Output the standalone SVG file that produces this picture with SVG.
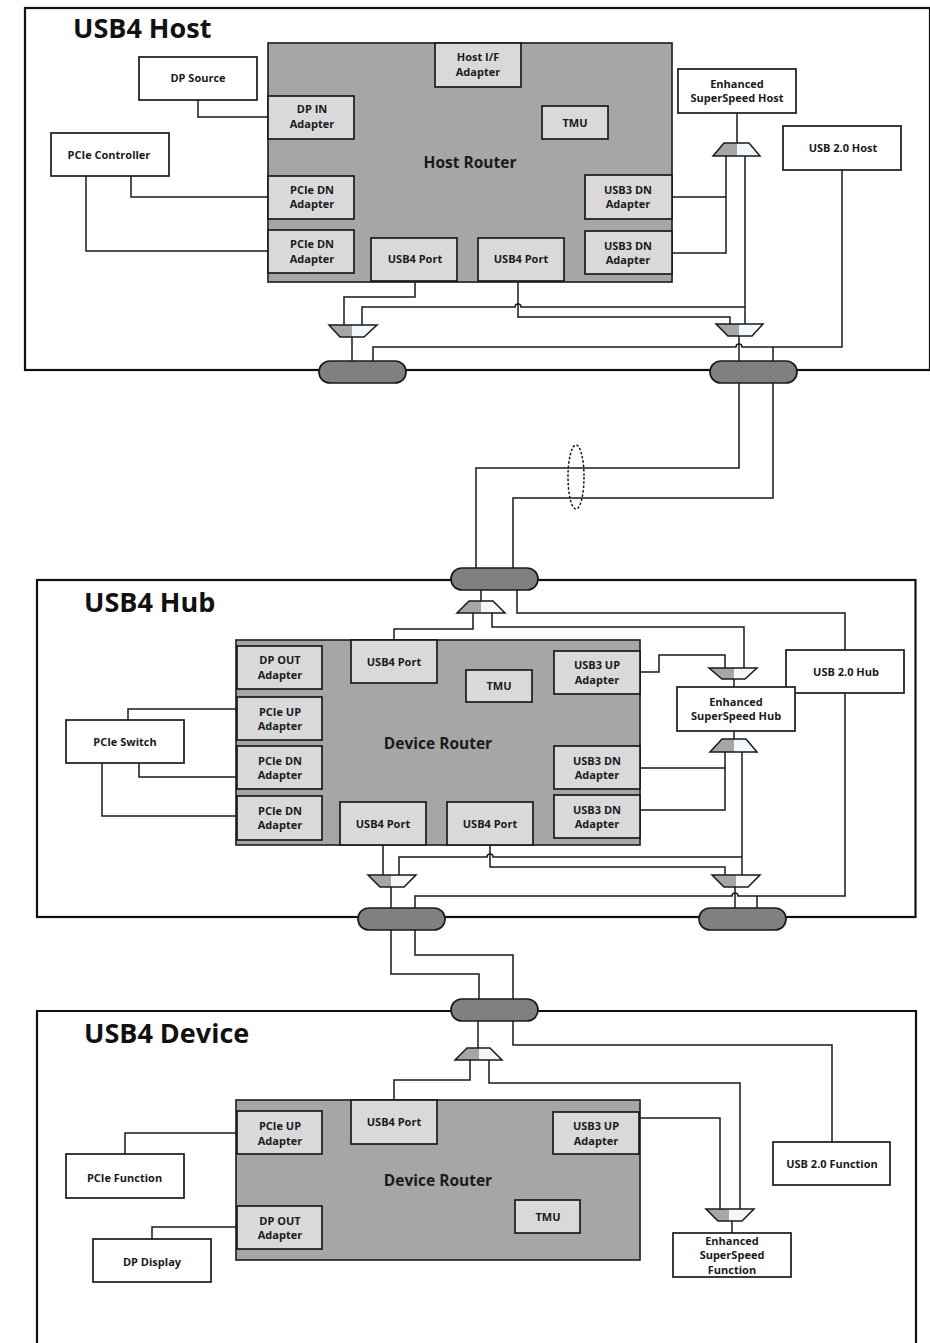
<svg xmlns="http://www.w3.org/2000/svg" width="930" height="1343" viewBox="0 0 930 1343">
<style>
text{font-family:"Open Sans","Noto Sans","DejaVu Sans",sans-serif;font-weight:700;fill:#1a1a1a;text-anchor:middle}
.s{font-size:11px}
.m{font-size:15.5px}
.t{font-size:27px;text-anchor:start;fill:#111}
.box{fill:#fff;stroke:#1a1a1a;stroke-width:1.7}
.ad{fill:#d9d9d9;stroke:#1a1a1a;stroke-width:1.7}
.rt{fill:#a6a6a6;stroke:#262626;stroke-width:1.7}
.fr{fill:#fff;stroke:#111;stroke-width:2.2}
.w{fill:none;stroke:#1a1a1a;stroke-width:1.5}
.pill{fill:#808080;stroke:#1a1a1a;stroke-width:1.7}
.ml{fill:#a6a6a6}
.mr{fill:#f2f7fc}
.mo{fill:none;stroke:#1a1a1a;stroke-width:1.5}
</style>
<g id="frame-host"><rect class="fr" x="25" y="8" width="905" height="362"/></g>
<g id="frame-hub"><rect class="fr" x="37" y="580" width="878.500" height="337"/></g>
<g id="frame-device"><path class="fr" d="M37 1343V1011H916V1343"/></g>

<g id="connectors">
<path class="w" d="M198 100V117H268"/>
<path class="w" d="M131 176V197H268"/>
<path class="w" d="M86 176V251H268"/>
<path class="w" d="M737 113V143"/>
<path class="w" d="M672 197H726M672 253H726V156"/>
<path class="w" d="M745 156V324"/>
<path class="w" d="M415 281V297H344V325"/>
<path class="w" d="M518 281V317H730V325"/>
<path class="w" d="M362 325V307H515A3 3 0 0 1 521 307H745"/>
<path class="w" d="M352 337V361"/>
<path class="w" d="M739 336V361"/>
<path class="w" d="M373 361V347H736A3 3 0 0 1 742 347H842V170"/>
<path class="w" d="M773 347V361"/>
<path class="w" d="M739 383V468H476V568"/>
<path class="w" d="M773 383V498H513V568"/>
<ellipse cx="576" cy="477" rx="8" ry="32" fill="none" stroke="#1a1a1a" stroke-width="1.5" stroke-dasharray="2.500 1.800"/>

<path class="w" d="M481 590V601"/>
<path class="w" d="M473 613V629H394V641"/>
<path class="w" d="M492 613V627H744V668"/>
<path class="w" d="M517 590V613H845V650"/>
<path class="w" d="M640 672H659V655H725V668"/>
<path class="w" d="M734 679V687"/>
<path class="w" d="M734 731V739"/>
<path class="w" d="M640 768H725M640 810H725V752"/>
<path class="w" d="M742 752V875"/>
<path class="w" d="M383 845V875"/>
<path class="w" d="M490 845V867H725V875"/>
<path class="w" d="M399 875V857H487A3 3 0 0 1 493 857H742"/>
<path class="w" d="M391 887V908"/>
<path class="w" d="M735 887V908"/>
<path class="w" d="M415 908V896H732A3 3 0 0 1 738 896H845V693"/>
<path class="w" d="M757 896V908"/>
<path class="w" d="M391 930V974H479V999"/>
<path class="w" d="M415 930V955H513V999"/>

<path class="w" d="M478 1021V1048"/>
<path class="w" d="M470 1060V1080H394V1100"/>
<path class="w" d="M489 1060V1083H740V1209"/>
<path class="w" d="M513 1021V1045H832V1142"/>
<path class="w" d="M640 1118H720V1209"/>
<path class="w" d="M732 1221V1233"/>
<path class="w" d="M125 1154V1133H237"/>
<path class="w" d="M152 1239V1227H237"/>
<path class="w" d="M128 720V709H237"/>
<path class="w" d="M139 763V777H237"/>
<path class="w" d="M102 763V816H237"/>
</g>

<g id="pill-host-left"><rect class="pill" x="319" y="361" width="87" height="22" rx="11"/></g>
<g id="pill-host-right"><rect class="pill" x="710" y="361" width="87" height="22" rx="11"/></g>
<g id="pill-hub-top"><rect class="pill" x="451" y="568" width="87" height="22" rx="11"/></g>
<g id="pill-hub-left"><rect class="pill" x="358" y="908" width="87" height="22" rx="11"/></g>
<g id="pill-hub-right"><rect class="pill" x="699" y="908" width="87" height="22" rx="11"/></g>
<g id="pill-device-top"><rect class="pill" x="451" y="999" width="87" height="22" rx="11"/></g>

<g id="mux-host-ss"><path class="ml" d="M724 143H737V156H713Z"/><path class="mr" d="M737 143H749L760 156H737Z"/><path class="mo" d="M724 143H749L760 156H713Z"/></g>
<g id="mux-host-left"><path class="ml" d="M329 325H352V337H340Z"/><path class="mr" d="M352 325H377L364 337H352Z"/><path class="mo" d="M329 325H377L364 337H340Z"/></g>
<g id="mux-host-right"><path class="ml" d="M716 324H739V336H728Z"/><path class="mr" d="M739 324H763L752 336H739Z"/><path class="mo" d="M716 324H763L752 336H728Z"/></g>
<g id="mux-hub-top"><path class="ml" d="M469 601H481V613H457Z"/><path class="mr" d="M481 601H493L505 613H481Z"/><path class="mo" d="M469 601H493L505 613H457Z"/></g>
<g id="mux-hub-ss-up"><path class="ml" d="M709 668H734V679H722Z"/><path class="mr" d="M734 668H757L745 679H734Z"/><path class="mo" d="M709 668H757L745 679H722Z"/></g>
<g id="mux-hub-ss-down"><path class="ml" d="M722 739H734V752H710Z"/><path class="mr" d="M734 739H746L757 752H734Z"/><path class="mo" d="M722 739H746L757 752H710Z"/></g>
<g id="mux-hub-left"><path class="ml" d="M368 875H391V887H380Z"/><path class="mr" d="M391 875H416L404 887H391Z"/><path class="mo" d="M368 875H416L404 887H380Z"/></g>
<g id="mux-hub-right"><path class="ml" d="M712 875H736V887H724Z"/><path class="mr" d="M736 875H760L748 887H736Z"/><path class="mo" d="M712 875H760L748 887H724Z"/></g>
<g id="mux-device-top"><path class="ml" d="M467 1048H479V1060H455Z"/><path class="mr" d="M479 1048H490L502 1060H479Z"/><path class="mo" d="M467 1048H490L502 1060H455Z"/></g>
<g id="mux-device-ss"><path class="ml" d="M706 1209H729V1221H718Z"/><path class="mr" d="M729 1209H754L742 1221H729Z"/><path class="mo" d="M706 1209H754L742 1221H718Z"/></g>

<text class="t" x="73" y="38">USB4 Host</text>
<text class="t" x="84" y="612">USB4 Hub</text>
<text class="t" x="84" y="1043">USB4 Device</text>

<g id="host-router"><rect class="rt" x="268" y="43" width="404" height="239"/><text class="m" x="470" y="168">Host Router</text></g>
<g id="host-if"><rect class="ad" x="435" y="43" width="86" height="44"/><text class="s" x="478" y="61">Host I/F</text><text class="s" x="478" y="76">Adapter</text></g>
<g id="host-dpin"><rect class="ad" x="268" y="96" width="86" height="43"/><text class="s" x="312" y="113">DP IN</text><text class="s" x="312" y="128">Adapter</text></g>
<g id="host-tmu"><rect class="ad" x="542" y="106" width="66" height="33"/><text class="s" x="575" y="127">TMU</text></g>
<g id="host-pcie1"><rect class="ad" x="268" y="176" width="86" height="43"/><text class="s" x="312" y="194">PCIe DN</text><text class="s" x="312" y="208">Adapter</text></g>
<g id="host-pcie2"><rect class="ad" x="268" y="230" width="86" height="43"/><text class="s" x="312" y="248">PCIe DN</text><text class="s" x="312" y="263">Adapter</text></g>
<g id="host-port1"><rect class="ad" x="371" y="238" width="86" height="43"/><text class="s" x="415" y="263">USB4 Port</text></g>
<g id="host-port2"><rect class="ad" x="478" y="238" width="86" height="43"/><text class="s" x="521" y="263">USB4 Port</text></g>
<g id="host-usb3-1"><rect class="ad" x="585" y="175" width="87" height="44"/><text class="s" x="628" y="194">USB3 DN</text><text class="s" x="628" y="208">Adapter</text></g>
<g id="host-usb3-2"><rect class="ad" x="585" y="231" width="87" height="43"/><text class="s" x="628" y="250">USB3 DN</text><text class="s" x="628" y="264">Adapter</text></g>
<g id="dp-source"><rect class="box" x="139" y="57" width="118" height="43"/><text class="s" x="198" y="82">DP Source</text></g>
<g id="pcie-controller"><rect class="box" x="51" y="133" width="118" height="43"/><text class="s" x="109" y="159">PCIe Controller</text></g>
<g id="ss-host"><rect class="box" x="678" y="69" width="118" height="44"/><text class="s" x="737" y="88">Enhanced</text><text class="s" x="737" y="102">SuperSpeed Host</text></g>
<g id="usb2-host"><rect class="box" x="783" y="126" width="118" height="44"/><text class="s" x="843" y="152">USB 2.0 Host</text></g>

<g id="hub-router"><rect class="rt" x="236" y="640" width="404" height="205"/><text class="m" x="438" y="749">Device Router</text></g>
<g id="hub-dpout"><rect class="ad" x="237" y="646" width="85" height="43"/><text class="s" x="280" y="664">DP OUT</text><text class="s" x="280" y="679">Adapter</text></g>
<g id="hub-pcieup"><rect class="ad" x="237" y="697" width="85" height="43"/><text class="s" x="280" y="716">PCIe UP</text><text class="s" x="280" y="730">Adapter</text></g>
<g id="hub-pciedn1"><rect class="ad" x="237" y="746" width="85" height="43"/><text class="s" x="280" y="765">PCIe DN</text><text class="s" x="280" y="779">Adapter</text></g>
<g id="hub-pciedn2"><rect class="ad" x="237" y="796" width="85" height="44"/><text class="s" x="280" y="815">PCIe DN</text><text class="s" x="280" y="829">Adapter</text></g>
<g id="hub-port-up"><rect class="ad" x="351" y="640" width="86" height="43"/><text class="s" x="394" y="666">USB4 Port</text></g>
<g id="hub-tmu"><rect class="ad" x="466" y="670" width="66" height="32"/><text class="s" x="499" y="690">TMU</text></g>
<g id="hub-usb3up"><rect class="ad" x="554" y="651" width="86" height="43"/><text class="s" x="597" y="669">USB3 UP</text><text class="s" x="597" y="684">Adapter</text></g>
<g id="hub-usb3dn1"><rect class="ad" x="554" y="746" width="86" height="43"/><text class="s" x="597" y="765">USB3 DN</text><text class="s" x="597" y="779">Adapter</text></g>
<g id="hub-usb3dn2"><rect class="ad" x="554" y="795" width="86" height="43"/><text class="s" x="597" y="814">USB3 DN</text><text class="s" x="597" y="828">Adapter</text></g>
<g id="hub-port1"><rect class="ad" x="340" y="802" width="86" height="43"/><text class="s" x="383" y="828">USB4 Port</text></g>
<g id="hub-port2"><rect class="ad" x="447" y="802" width="86" height="43"/><text class="s" x="490" y="828">USB4 Port</text></g>
<g id="pcie-switch"><rect class="box" x="66" y="720" width="118" height="43"/><text class="s" x="125" y="746">PCIe Switch</text></g>
<g id="usb2-hub"><rect class="box" x="786" y="650" width="118" height="43"/><text class="s" x="846" y="676">USB 2.0 Hub</text></g>
<g id="ss-hub"><rect class="box" x="677" y="687" width="118" height="44"/><text class="s" x="736" y="706">Enhanced</text><text class="s" x="736" y="720">SuperSpeed Hub</text></g>

<g id="device-router"><rect class="rt" x="236" y="1100" width="404" height="160"/><text class="m" x="438" y="1186">Device Router</text></g>
<g id="dev-pcieup"><rect class="ad" x="237" y="1111" width="85" height="43"/><text class="s" x="280" y="1130">PCIe UP</text><text class="s" x="280" y="1145">Adapter</text></g>
<g id="dev-dpout"><rect class="ad" x="237" y="1206" width="85" height="43"/><text class="s" x="280" y="1225">DP OUT</text><text class="s" x="280" y="1239">Adapter</text></g>
<g id="dev-port"><rect class="ad" x="351" y="1100" width="86" height="44"/><text class="s" x="394" y="1126">USB4 Port</text></g>
<g id="dev-usb3up"><rect class="ad" x="553" y="1112" width="86" height="42"/><text class="s" x="596" y="1130">USB3 UP</text><text class="s" x="596" y="1145">Adapter</text></g>
<g id="dev-tmu"><rect class="ad" x="515" y="1200" width="65" height="33"/><text class="s" x="548" y="1221">TMU</text></g>
<g id="pcie-function"><rect class="box" x="66" y="1154" width="118" height="44"/><text class="s" x="124.500" y="1182">PCIe Function</text></g>
<g id="dp-display"><rect class="box" x="93" y="1239" width="118" height="43"/><text class="s" x="152" y="1266">DP Display</text></g>
<g id="ss-function"><rect class="box" x="673" y="1233" width="118" height="44"/><text class="s" x="732" y="1245">Enhanced</text><text class="s" x="732" y="1259">SuperSpeed</text><text class="s" x="732" y="1274">Function</text></g>
<g id="usb2-function"><rect class="box" x="773" y="1142" width="117" height="43"/><text class="s" x="832" y="1168">USB 2.0 Function</text></g>
</svg>
